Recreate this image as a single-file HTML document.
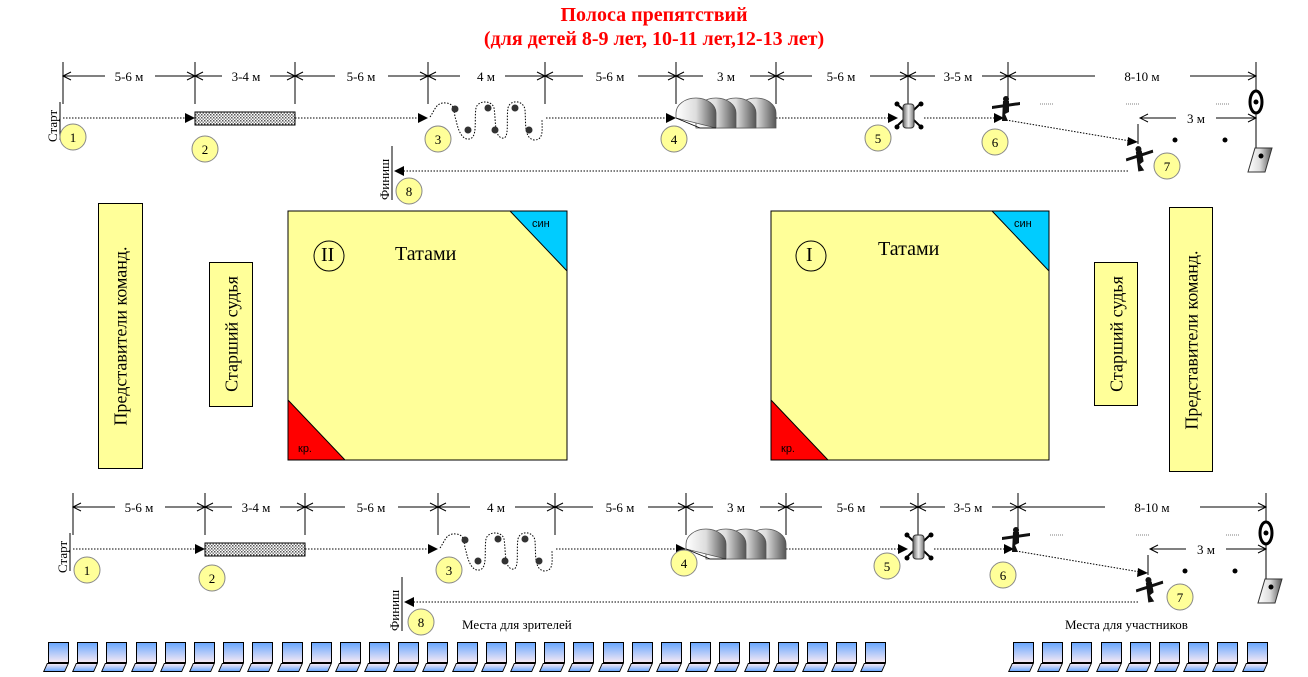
<!DOCTYPE html>
<html><head><meta charset="utf-8"><style>
html,body{margin:0;padding:0;background:#fff;width:1308px;height:677px;overflow:hidden;position:relative;font-family:"Liberation Serif",serif;}
.t{position:absolute;white-space:nowrap;color:#000;}
.box{position:absolute;background:#ffff99;border:1px solid #000;box-sizing:border-box;}
.rot{position:absolute;white-space:nowrap;transform:translate(-50%,-50%) rotate(-90deg);font-size:18px;}
.chairs{position:absolute;top:642px;display:flex;}
.chairs i{display:block;position:relative;width:21px;height:30px;margin-right:8.2px;}
.chairs i:before{content:"";position:absolute;left:0;top:0;width:21px;height:21px;box-sizing:border-box;border:1px solid #000;background:linear-gradient(#6aa8ff,#f4e8f4);}
.chairs i:after{content:"";position:absolute;left:-3px;top:21px;width:22px;height:9px;box-sizing:border-box;border:1px solid #000;background:linear-gradient(#f4e8f4,#6aa8ff);transform:skewX(-24deg);}
svg{position:absolute;left:0;top:0;}
</style></head><body>

<svg width="1308" height="677" viewBox="0 0 1308 677" xmlns="http://www.w3.org/2000/svg">
<defs>
<pattern id="dots" width="3" height="3" patternUnits="userSpaceOnUse"><rect width="3" height="3" fill="#fff"/><rect width="1.5" height="1.5" fill="#555"/><rect x="1.5" y="1.5" width="1.5" height="1.5" fill="#888"/></pattern>
<linearGradient id="cyl" x1="0" x2="1"><stop offset="0" stop-color="#fff"/><stop offset="0.5" stop-color="#ddd"/><stop offset="1" stop-color="#555"/></linearGradient>
<linearGradient id="cyl2" x1="0" x2="1"><stop offset="0" stop-color="#666"/><stop offset="0.5" stop-color="#eee"/><stop offset="1" stop-color="#777"/></linearGradient>
</defs>

<!-- ROW TOP -->
<g transform="translate(0,0)">
 <g stroke="#000" stroke-width="1" fill="none">
  <path d="M63,62V104M195,62V104M295,62V104M428,62V104M545,62V104M676,62V104M776,62V104M908,62V104M1008,62V104M1256,62V90M1256,114V148M1138,124V144"/>
  <path d="M63,76H105M155,76H222M270,76H335M388,76H460M505,76H583M638,76H703M750,76H812M870,76H935M982,76H1095M1190,76H1256M1140,118H1176M1216,118H1256"/>
  <path d="M71,72L63,76L71,80M187,72L195,76L187,80M203,72L195,76L203,80M287,72L295,76L287,80M303,72L295,76L303,80M420,72L428,76L420,80M436,72L428,76L436,80M537,72L545,76L537,80M553,72L545,76L553,80M668,72L676,76L668,80M684,72L676,76L684,80M768,72L776,76L768,80M784,72L776,76L784,80M900,72L908,76L900,80M916,72L908,76L916,80M1000,72L1008,76L1000,80M1016,72L1008,76L1016,80M1248,72L1256,76L1248,80M1148,114L1140,118L1148,122M1248,114L1256,118L1248,122"/>
 </g>
 <g font-size="13" text-anchor="middle" font-family="Liberation Serif,serif">
  <text x="129" y="81">5-6 м</text><text x="246" y="81">3-4 м</text><text x="361" y="81">5-6 м</text>
  <text x="486" y="81">4 м</text><text x="610" y="81">5-6 м</text><text x="726" y="81">3 м</text>
  <text x="841" y="81">5-6 м</text><text x="958" y="81">3-5 м</text><text x="1142" y="81">8-10 м</text>
  <text x="1196" y="123">3 м</text>
 </g>
 <g stroke="#000" stroke-width="1" stroke-dasharray="1.5,1.5" fill="none">
  <path d="M63,118H186M295,118H420M546,118H668M776,118H890M924,118H996M1006,120L1130,141M1128,171H402"/>
  <path d="M430,117 C435,110 436,102 446,103 C456,104 453,112 456,120 C458,130 462,140 469,139 C478,138 474,120 476,108 C478,100 492,100 494,108 C496,120 494,136 502,138 C510,140 506,120 508,108 C510,99 524,100 525,110 C526,124 524,138 534,140 C544,140 542,130 542,119"/>
 </g>
 <g fill="#000">
  <path d="M185,113L195,118L185,123z"/><path d="M418,113L428,118L418,123z"/><path d="M666,113L676,118L666,123z"/>
  <path d="M888,113L898,118L888,123z"/><path d="M994,113L1004,118L994,123z"/><path d="M1128,137L1138,142L1127,146z"/>
  <path d="M404,166L394,171L404,176z"/>
 </g>
 <g fill="#333"><circle cx="455" cy="109" r="3.5"/><circle cx="468" cy="130" r="3.5"/><circle cx="488" cy="108" r="3.5"/><circle cx="495" cy="130" r="3.5"/><circle cx="515" cy="108" r="3.5"/><circle cx="529" cy="130" r="3.5"/></g>
 <rect x="195" y="112" width="100" height="13" fill="url(#dots)" stroke="#000" stroke-width="1"/>
 <g stroke="#555" stroke-width="0.8">
  <path d="M736,128 L736,113 A20,15 0 0 1 776,113 L776,128 z" fill="url(#cyl)"/>
  <path d="M716,128 L716,113 A20,15 0 0 1 756,113 L756,128 z" fill="url(#cyl)"/>
  <path d="M696,128 L696,113 A20,15 0 0 1 736,113 L736,128 z" fill="url(#cyl)"/>
  <path d="M676,118 L676,113 A20,15 0 0 1 716,113 L716,128 z" fill="url(#cyl)"/>
  <path d="M676,118 L700,128 L716,128" fill="none" stroke="#000"/>
 </g>
 <path d="M897,104L920,126M920,104L897,126" stroke="#000" stroke-width="2"/>
 <rect x="903" y="104" width="11" height="24" rx="3" fill="url(#cyl2)" stroke="#333"/>
 <circle cx="897" cy="104" r="2.5"/><circle cx="921" cy="104" r="2.5"/><circle cx="897" cy="127" r="2.5"/><circle cx="921" cy="127" r="2.5"/>
 <g fill="#111" transform="translate(1006,108)"><circle cx="0" cy="-9" r="3"/><path d="M-14,-2 L14,-6 L14,-3 L-14,1 z"/><path d="M-3,-7 L3,-7 L3,4 L-1,6 L2,13 L-4,13 z"/></g>
 <g fill="#111" transform="translate(1140,158) rotate(-10)"><circle cx="0" cy="-9" r="3"/><path d="M-14,-2 L14,-6 L14,-3 L-14,1 z"/><path d="M-3,-7 L3,-7 L3,4 L-1,6 L2,13 L-4,13 z"/></g>
 <path d="M1040,104H1054M1126,104H1140M1216,104H1230" stroke="#000" stroke-width="0.6" stroke-dasharray="1,1"/>
 <circle cx="1175" cy="140" r="2.5"/><circle cx="1225" cy="140" r="2.5"/>
 <ellipse cx="1256" cy="102" rx="6" ry="11" fill="#fff" stroke="#000" stroke-width="3"/><circle cx="1256" cy="102" r="2.5"/>
 <path d="M1255,148 L1272,148 L1265,172 L1248,172 z" fill="url(#cyl)" stroke="#333"/><circle cx="1261" cy="156" r="2.5"/>
 <path d="M60,102V140M392,146V200" stroke="#000"/>
 <text transform="translate(57,142) rotate(-90)" font-size="13" font-family="Liberation Serif,serif">Старт</text>
 <text transform="translate(389,200) rotate(-90)" font-size="13" font-family="Liberation Serif,serif">Финиш</text>
 <g fill="#ffff99" stroke="#888" stroke-width="1">
  <circle cx="73" cy="137" r="13"/><circle cx="205" cy="149" r="13"/><circle cx="438" cy="139" r="13"/><circle cx="674" cy="139" r="13"/>
  <circle cx="878" cy="138" r="13"/><circle cx="995" cy="142" r="13"/><circle cx="1167" cy="166" r="13"/><circle cx="409" cy="191" r="13"/>
 </g>
 <g text-anchor="middle" font-size="13" font-family="Liberation Serif,serif">
  <text x="73" y="142">1</text><text x="205" y="154">2</text><text x="438" y="144">3</text><text x="674" y="144">4</text>
  <text x="878" y="143">5</text><text x="995" y="147">6</text><text x="1167" y="171">7</text><text x="409" y="196">8</text>
 </g>
</g>

<!-- ROW BOTTOM -->
<g transform="translate(10,431)">
 <g stroke="#000" stroke-width="1" fill="none">
  <path d="M63,62V104M195,62V104M295,62V104M428,62V104M545,62V104M676,62V104M776,62V104M908,62V104M1008,62V104M1256,62V90M1256,114V148M1138,124V144"/>
  <path d="M63,76H105M155,76H222M270,76H335M388,76H460M505,76H583M638,76H703M750,76H812M870,76H935M982,76H1095M1190,76H1256M1140,118H1176M1216,118H1256"/>
  <path d="M71,72L63,76L71,80M187,72L195,76L187,80M203,72L195,76L203,80M287,72L295,76L287,80M303,72L295,76L303,80M420,72L428,76L420,80M436,72L428,76L436,80M537,72L545,76L537,80M553,72L545,76L553,80M668,72L676,76L668,80M684,72L676,76L684,80M768,72L776,76L768,80M784,72L776,76L784,80M900,72L908,76L900,80M916,72L908,76L916,80M1000,72L1008,76L1000,80M1016,72L1008,76L1016,80M1248,72L1256,76L1248,80M1148,114L1140,118L1148,122M1248,114L1256,118L1248,122"/>
 </g>
 <g font-size="13" text-anchor="middle" font-family="Liberation Serif,serif">
  <text x="129" y="81">5-6 м</text><text x="246" y="81">3-4 м</text><text x="361" y="81">5-6 м</text>
  <text x="486" y="81">4 м</text><text x="610" y="81">5-6 м</text><text x="726" y="81">3 м</text>
  <text x="841" y="81">5-6 м</text><text x="958" y="81">3-5 м</text><text x="1142" y="81">8-10 м</text>
  <text x="1196" y="123">3 м</text>
 </g>
 <g stroke="#000" stroke-width="1" stroke-dasharray="1.5,1.5" fill="none">
  <path d="M63,118H186M295,118H420M546,118H668M776,118H890M924,118H996M1006,120L1130,141M1128,171H402"/>
  <path d="M430,117 C435,110 436,102 446,103 C456,104 453,112 456,120 C458,130 462,140 469,139 C478,138 474,120 476,108 C478,100 492,100 494,108 C496,120 494,136 502,138 C510,140 506,120 508,108 C510,99 524,100 525,110 C526,124 524,138 534,140 C544,140 542,130 542,119"/>
 </g>
 <g fill="#000">
  <path d="M185,113L195,118L185,123z"/><path d="M418,113L428,118L418,123z"/><path d="M666,113L676,118L666,123z"/>
  <path d="M888,113L898,118L888,123z"/><path d="M994,113L1004,118L994,123z"/><path d="M1128,137L1138,142L1127,146z"/>
  <path d="M404,166L394,171L404,176z"/>
 </g>
 <g fill="#333"><circle cx="455" cy="109" r="3.5"/><circle cx="468" cy="130" r="3.5"/><circle cx="488" cy="108" r="3.5"/><circle cx="495" cy="130" r="3.5"/><circle cx="515" cy="108" r="3.5"/><circle cx="529" cy="130" r="3.5"/></g>
 <rect x="195" y="112" width="100" height="13" fill="url(#dots)" stroke="#000" stroke-width="1"/>
 <g stroke="#555" stroke-width="0.8">
  <path d="M736,128 L736,113 A20,15 0 0 1 776,113 L776,128 z" fill="url(#cyl)"/>
  <path d="M716,128 L716,113 A20,15 0 0 1 756,113 L756,128 z" fill="url(#cyl)"/>
  <path d="M696,128 L696,113 A20,15 0 0 1 736,113 L736,128 z" fill="url(#cyl)"/>
  <path d="M676,118 L676,113 A20,15 0 0 1 716,113 L716,128 z" fill="url(#cyl)"/>
  <path d="M676,118 L700,128 L716,128" fill="none" stroke="#000"/>
 </g>
 <path d="M897,104L920,126M920,104L897,126" stroke="#000" stroke-width="2"/>
 <rect x="903" y="104" width="11" height="24" rx="3" fill="url(#cyl2)" stroke="#333"/>
 <circle cx="897" cy="104" r="2.5"/><circle cx="921" cy="104" r="2.5"/><circle cx="897" cy="127" r="2.5"/><circle cx="921" cy="127" r="2.5"/>
 <g fill="#111" transform="translate(1006,108)"><circle cx="0" cy="-9" r="3"/><path d="M-14,-2 L14,-6 L14,-3 L-14,1 z"/><path d="M-3,-7 L3,-7 L3,4 L-1,6 L2,13 L-4,13 z"/></g>
 <g fill="#111" transform="translate(1140,158) rotate(-10)"><circle cx="0" cy="-9" r="3"/><path d="M-14,-2 L14,-6 L14,-3 L-14,1 z"/><path d="M-3,-7 L3,-7 L3,4 L-1,6 L2,13 L-4,13 z"/></g>
 <path d="M1040,104H1054M1126,104H1140M1216,104H1230" stroke="#000" stroke-width="0.6" stroke-dasharray="1,1"/>
 <circle cx="1175" cy="140" r="2.5"/><circle cx="1225" cy="140" r="2.5"/>
 <ellipse cx="1256" cy="102" rx="6" ry="11" fill="#fff" stroke="#000" stroke-width="3"/><circle cx="1256" cy="102" r="2.5"/>
 <path d="M1255,148 L1272,148 L1265,172 L1248,172 z" fill="url(#cyl)" stroke="#333"/><circle cx="1261" cy="156" r="2.5"/>
 <path d="M60,102V140M392,146V200" stroke="#000"/>
 <text transform="translate(57,142) rotate(-90)" font-size="13" font-family="Liberation Serif,serif">Старт</text>
 <text transform="translate(389,200) rotate(-90)" font-size="13" font-family="Liberation Serif,serif">Финиш</text>
 <g fill="#ffff99" stroke="#888" stroke-width="1">
  <circle cx="77" cy="139" r="13"/><circle cx="202" cy="147" r="13"/><circle cx="439" cy="139" r="13"/><circle cx="674" cy="132" r="13"/>
  <circle cx="877" cy="135" r="13"/><circle cx="993" cy="144" r="13"/><circle cx="1170" cy="166" r="13"/><circle cx="411" cy="191" r="13"/>
 </g>
 <g text-anchor="middle" font-size="13" font-family="Liberation Serif,serif">
  <text x="77" y="144">1</text><text x="202" y="152">2</text><text x="439" y="144">3</text><text x="674" y="137">4</text>
  <text x="877" y="140">5</text><text x="993" y="149">6</text><text x="1170" y="171">7</text><text x="411" y="196">8</text>
 </g>
</g>

<!-- tatami -->
<g stroke="#000" stroke-width="1">
 <rect x="288" y="211" width="279" height="249" fill="#ffff99"/>
 <path d="M510,211 L567,211 L567,271 z" fill="#00ccff"/>
 <path d="M288,400 L288,460 L345,460 z" fill="#ff0000"/>
 <rect x="771" y="211" width="278" height="249" fill="#ffff99"/>
 <path d="M992,211 L1049,211 L1049,271 z" fill="#00ccff"/>
 <path d="M771,400 L771,460 L828,460 z" fill="#ff0000"/>
 <circle cx="329" cy="256" r="15" fill="none"/>
 <circle cx="811" cy="256" r="15" fill="none"/>
</g>
</svg>

<div class="t" style="left:0;width:1308px;text-align:center;top:3px;font-size:20px;font-weight:bold;color:#f00;line-height:24px;">Полоса препятствий<br>(для детей 8-9 лет, 10-11 лет,12-13 лет)</div>

<div class="t" style="left:321px;top:244px;font-size:20px;">II</div>
<div class="t" style="left:806px;top:244px;font-size:20px;">I</div>
<div class="t" style="left:395px;top:243px;font-size:20px;">Татами</div>
<div class="t" style="left:878px;top:238px;font-size:20px;">Татами</div>
<div class="t" style="left:532px;top:218px;font-size:11px;font-family:'Liberation Sans',sans-serif;">син</div>
<div class="t" style="left:1014px;top:218px;font-size:11px;font-family:'Liberation Sans',sans-serif;">син</div>
<div class="t" style="left:298px;top:443px;font-size:11px;font-family:'Liberation Sans',sans-serif;">кр.</div>
<div class="t" style="left:781px;top:443px;font-size:11px;font-family:'Liberation Sans',sans-serif;">кр.</div>

<div class="box" style="left:98px;top:203px;width:45px;height:266px;"></div>
<div class="box" style="left:1169px;top:207px;width:44px;height:265px;"></div>
<div class="box" style="left:209px;top:262px;width:44px;height:145px;"></div>
<div class="box" style="left:1094px;top:262px;width:44px;height:144px;"></div>
<div class="rot" style="left:121px;top:336px;">Представители команд.</div>
<div class="rot" style="left:1192px;top:340px;">Представители команд.</div>
<div class="rot" style="left:232px;top:334px;">Старший судья</div>
<div class="rot" style="left:1117px;top:334px;">Старший судья</div>

<div class="t" style="left:462px;top:617px;font-size:13px;">Места для зрителей</div>
<div class="t" style="left:1065px;top:617px;font-size:13px;">Места для участников</div>

<div class="chairs" style="left:48px;"><i></i><i></i><i></i><i></i><i></i><i></i><i></i><i></i><i></i><i></i><i></i><i></i><i></i><i></i><i></i><i></i><i></i><i></i><i></i><i></i><i></i><i></i><i></i><i></i><i></i><i></i><i></i><i></i><i></i></div>
<div class="chairs" style="left:1013px;"><i></i><i></i><i></i><i></i><i></i><i></i><i></i><i></i><i></i></div>
</body></html>
